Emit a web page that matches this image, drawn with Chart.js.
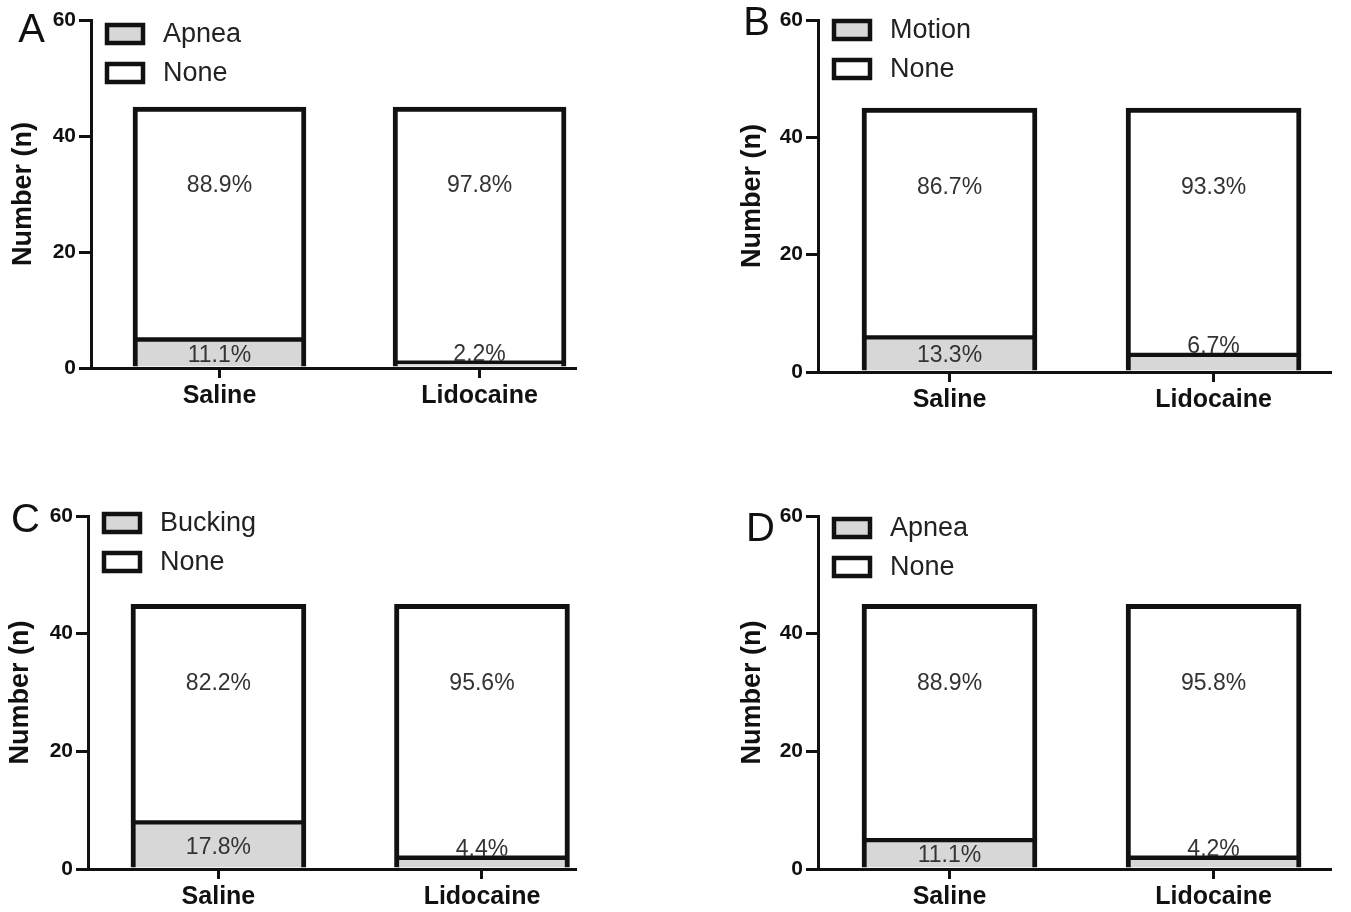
<!DOCTYPE html>
<html>
<head>
<meta charset="utf-8">
<script src="https://cdn.jsdelivr.net/npm/chart.js@4.4.1/dist/chart.umd.min.js"></script>
<style>
  body { margin: 0; background: #fff; }
  #wrap { position: relative; width: 1351px; height: 912px; overflow: hidden; }
  .panel { position: absolute; }
</style>
</head>
<body>
<div id="wrap">
  <div class="panel" style="left:0;top:0;width:640px;height:420px"><canvas id="chart0"></canvas></div>
  <div class="panel" style="left:729px;top:0;width:622px;height:424px"><canvas id="chart1"></canvas></div>
  <div class="panel" style="left:0;top:480px;width:640px;height:432px"><canvas id="chart2"></canvas></div>
  <div class="panel" style="left:729px;top:480px;width:622px;height:432px"><canvas id="chart3"></canvas></div>
</div>
<script>
// data
const groups = ["Saline", "Lidocaine"];
const panelLetters = ["A", "B", "C", "D"];
const eventNames = ["Apnea", "Motion", "Bucking", "Apnea"];
const eventCounts = [[5, 1], [6, 3], [8, 2], [5, 2]];
const noneCounts = [[40, 44], [39, 42], [37, 43], [40, 43]];
const eventPct = [["11.1%", "2.2%"], ["13.3%", "6.7%"], ["17.8%", "4.4%"], ["11.1%", "4.2%"]];
const nonePct = [["88.9%", "97.8%"], ["86.7%", "93.3%"], ["82.2%", "95.6%"], ["88.9%", "95.8%"]];
const yTicks = [0, 20, 40, 60];

// per-panel placement
const layouts = [
  { pad: { left: 7, top: 20, right: 65, bottom: 0 }, yWidth: 84, xHeight: 52, xMin: -0.494, xMax: 1.367, barW: 173, rowY: 14, letterDX: 46, letterDY: 22 },
  { pad: { left: 7, top: 20, right: 21, bottom: 0 }, yWidth: 82, xHeight: 52, xMin: -0.498, xMax: 1.441, barW: 175, rowY: 10, letterDX: 48, letterDY: 15 },
  { pad: { left: 4, top: 36, right: 65, bottom: 0 }, yWidth: 84, xHeight: 43, xMin: -0.495, xMax: 1.353, barW: 175, rowY: 7, letterDX: 48, letterDY: 16 },
  { pad: { left: 7, top: 36, right: 21, bottom: 0 }, yWidth: 82, xHeight: 43, xMin: -0.498, xMax: 1.441, barW: 175, rowY: 12, letterDX: 43, letterDY: 25 },
];

const FONT = "'Liberation Sans', Arial, sans-serif";
Chart.defaults.font.family = FONT;
Chart.defaults.color = "#111";

const pctPlugin = {
  id: "pctLabels",
  afterDatasetsDraw(chart) {
    const ctx = chart.ctx;
    const yScale = chart.scales.y;
    ctx.save();
    ctx.font = "23px " + FONT;
    ctx.fillStyle = "#333";
    ctx.textAlign = "center";
    chart.data.datasets.forEach((ds, di) => {
      chart.getDatasetMeta(di).data.forEach((bar, i) => {
        const p = bar.getProps(["x", "y", "base"], true);
        if (di === 1) {
          ctx.textBaseline = "middle";
          ctx.fillText(ds.pct[i], p.x, yScale.getPixelForValue(31.5));
        } else if (p.base - p.y > 24) {
          ctx.textBaseline = "middle";
          ctx.fillText(ds.pct[i], p.x, (p.y + 3 + p.base) / 2 + 1);
        } else {
          ctx.textBaseline = "alphabetic";
          ctx.fillText(ds.pct[i], p.x, p.y - 1);
        }
      });
    });
    ctx.restore();
  }
};

const legendPlugin = {
  id: "boxLegend",
  afterDraw(chart, args, opts) {
    const { ctx, chartArea } = chart;
    ctx.save();
    ctx.font = "27px " + FONT;
    ctx.textBaseline = "middle";
    ctx.textAlign = "left";
    chart.data.datasets.forEach((ds, i) => {
      const cy = chartArea.top + opts.rowY + i * 39;
      const bx = chartArea.left + 16;
      ctx.fillStyle = ds.backgroundColor;
      ctx.fillRect(bx, cy - 9, 36, 18);
      ctx.lineWidth = 4.5;
      ctx.strokeStyle = "#111";
      ctx.strokeRect(bx, cy - 9, 36, 18);
      ctx.fillStyle = "#222";
      ctx.fillText(ds.label, bx + 56, cy + 1);
    });
    ctx.font = "40px " + FONT;
    ctx.textAlign = "right";
    ctx.textBaseline = "alphabetic";
    ctx.fillStyle = "#111";
    ctx.fillText(opts.letter, chartArea.left - opts.letterDX, chartArea.top + opts.letterDY);
    ctx.restore();
  }
};

function makePanel(k) {
  const lay = layouts[k];
  const toPoints = arr => arr.map((v, i) => ({ x: i, y: v }));
  new Chart(document.getElementById("chart" + k), {
    type: "bar",
    data: {
      datasets: [
        {
          label: eventNames[k],
          data: toPoints(eventCounts[k]),
          pct: eventPct[k],
          backgroundColor: "#d7d7d7",
          borderColor: "#111",
          borderWidth: { top: 3, left: 5, right: 5, bottom: 0 },
          borderSkipped: false,
          barThickness: lay.barW,
        },
        {
          label: "None",
          data: toPoints(noneCounts[k]),
          pct: nonePct[k],
          backgroundColor: "#ffffff",
          borderColor: "#111",
          borderWidth: { top: 5, left: 5, right: 5, bottom: 2 },
          borderSkipped: false,
          barThickness: lay.barW,
        },
      ],
    },
    options: {
      responsive: true,
      maintainAspectRatio: false,
      animation: false,
      layout: { padding: lay.pad },
      plugins: {
        legend: { display: false },
        tooltip: { enabled: false },
        boxLegend: { letter: panelLetters[k], rowY: lay.rowY, letterDX: lay.letterDX, letterDY: lay.letterDY },
      },
      scales: {
        x: {
          type: "linear",
          stacked: true,
          offset: false,
          min: lay.xMin,
          max: lay.xMax,
          bounds: "data",
          z: 1,
          afterFit: s => { s.height = lay.xHeight; },
          afterBuildTicks: s => { s.ticks = groups.map((g, i) => ({ value: i })); },
          grid: { offset: false, drawOnChartArea: false, drawTicks: true, tickLength: 10, lineWidth: 3, color: "#111" },
          border: { display: true, width: 3, color: "#111" },
          ticks: {
            padding: 3,
            font: { size: 25, weight: "bold" },
            callback: v => groups[v],
          },
        },
        y: {
          stacked: true,
          min: 0,
          max: 60,
          afterFit: s => { s.width = lay.yWidth; },
          afterBuildTicks: s => { s.ticks = yTicks.map(v => ({ value: v })); },
          grid: { drawOnChartArea: false, drawTicks: true, tickLength: 12, lineWidth: 3, color: "#111" },
          border: { display: true, width: 3, color: "#111" },
          ticks: { padding: 3, font: { size: 21, weight: "bold" } },
          title: {
            display: true,
            text: "Number (n)",
            padding: 0,
            font: { size: 27, weight: "bold" },
            color: "#111",
          },
        },
      },
    },
    plugins: [pctPlugin, legendPlugin],
  });
}

for (let k = 0; k < 4; k++) {
  makePanel(k);
}
</script>
</body>
</html>
